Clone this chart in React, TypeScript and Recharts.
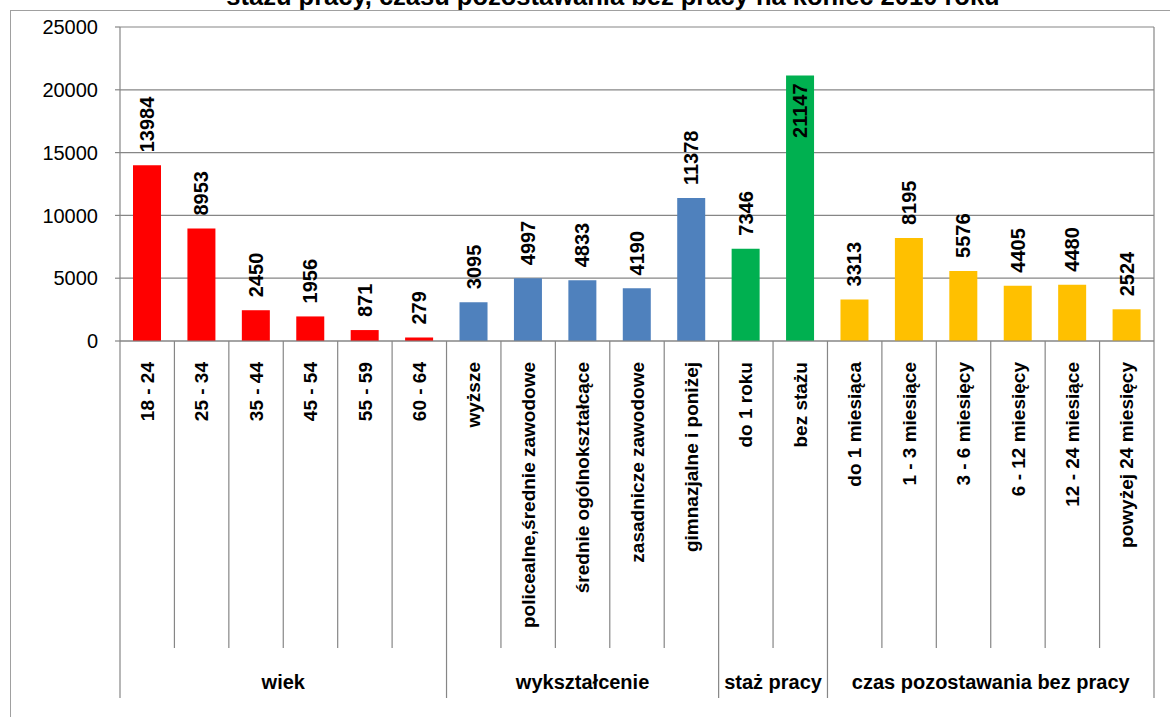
import React from "react";
import { Bar, BarChart, CartesianGrid, Cell, LabelList, XAxis, YAxis } from "recharts";

const categories = [
  "18 - 24",
  "25 - 34",
  "35 - 44",
  "45 - 54",
  "55 - 59",
  "60 - 64",
  "wyższe",
  "policealne,średnie zawodowe",
  "średnie ogólnokształcące",
  "zasadnicze zawodowe",
  "gimnazjalne i poniżej",
  "do 1 roku",
  "bez stażu",
  "do 1 miesiąca",
  "1 - 3 miesiące",
  "3 - 6 miesięcy",
  "6 - 12 miesięcy",
  "12 - 24 miesiące",
  "powyżej 24 miesięcy",
];

const values = [
  13984, 8953, 2450, 1956, 871, 279, 3095, 4997, 4833, 4190, 11378, 7346, 21147,
  3313, 8195, 5576, 4405, 4480, 2524,
];

const groupNames = ["wiek", "wykształcenie", "staż pracy", "czas pozostawania bez pracy"];
const groupSizes = [6, 5, 2, 6];

const yTicks = [0, 5000, 10000, 15000, 20000, 25000];

const title = "stażu pracy, czasu pozostawania bez pracy na koniec 2010 roku";

const groupColors = ["#ff0000", "#4f81bd", "#00b050", "#ffc000"];

const W = 1170;
const H = 717;
const X_AXIS_H = 376;
const Y_AXIS_W = 120;
const MARGIN = { top: 27, right: 16, left: 0, bottom: 0 };
const PLOT_TOP = MARGIN.top;
const PLOT_BOTTOM = H - X_AXIS_H;
const PLOT_W = W - MARGIN.left - MARGIN.right - Y_AXIS_W;
const FONT = "'Liberation Sans', Arial, sans-serif";
const LINE = "#868686";

// group index of each category
const groupStart: number[] = [];
const groupOf: number[] = [];
groupSizes.forEach((n, g) => {
  groupStart.push(groupOf.length);
  for (let i = 0; i < n; i++) groupOf.push(g);
});

const data = categories.map((name, i) => ({
  name,
  value: values[i],
  group: groupOf[i],
}));

function CategoryTick(props: any) {
  const { x, payload } = props;
  const index: number = payload.index;
  const bw = payload.offset ? payload.offset * 2 : PLOT_W / categories.length;
  const left = x - bw / 2;
  const g = groupOf[index];
  const isStart = groupStart[g] === index;
  const isLast = index === categories.length - 1;
  const shortEnd = 648;
  const longEnd = 698;
  return (
    <g>
      <line
        x1={left}
        x2={left}
        y1={PLOT_BOTTOM}
        y2={isStart ? longEnd : shortEnd}
        stroke={LINE}
        strokeWidth={1.2}
      />
      {isLast && (
        <line
          x1={left + bw}
          x2={left + bw}
          y1={PLOT_TOP}
          y2={longEnd}
          stroke={LINE}
          strokeWidth={1.2}
        />
      )}
      <text
        x={x}
        y={362}
        transform={`rotate(-90, ${x}, 362)`}
        textAnchor="end"
        dy="0.35em"
        fontFamily={FONT}
        fontWeight="bold"
        fontSize={19}
        fill="#000"
      >
        {payload.value}
      </text>
      {isStart && (
        <text
          x={left + (groupSizes[g] * bw) / 2}
          y={689}
          textAnchor="middle"
          fontFamily={FONT}
          fontWeight="bold"
          fontSize={20}
          fill="#000"
        >
          {groupNames[g]}
        </text>
      )}
    </g>
  );
}

function ValueLabel(props: any) {
  const { x, y, width, value } = props;
  const cx = Number(x) + Number(width) / 2;
  const top = Number(y);
  const textLen = String(value).length * 11.1;
  let start = top - 13;
  if (start - textLen < PLOT_TOP) start = top + 7 + textLen;
  return (
    <text
      x={cx}
      y={start}
      transform={`rotate(-90, ${cx}, ${start})`}
      textAnchor="start"
      dy="0.35em"
      fontFamily={FONT}
      fontWeight="bold"
      fontSize={20}
      fill="#000"
    >
      {value}
    </text>
  );
}

export default function App() {
  return (
    <div style={{ position: "relative", width: W, height: H, overflow: "hidden", background: "#fff" }}>
      <style>{"body{margin:0}"}</style>
      <svg width={W} height={H} style={{ position: "absolute", left: 0, top: 0 }}>
        <rect x={10.5} y={10.5} width={W + 20} height={H + 20} fill="none" stroke="#a0a0a0" />
        <text
          x={613}
          y={5}
          textAnchor="middle"
          fontFamily={FONT}
          fontWeight="bold"
          fontSize={25.5}
          fill="#000"
        >
          {title}
        </text>
      </svg>
      <div style={{ position: "absolute", left: 0, top: 0 }}>
        <BarChart width={W} height={H} data={data} margin={MARGIN}>
          <CartesianGrid vertical={false} stroke={LINE} strokeWidth={1.2} />
          <XAxis
            dataKey="name"
            interval={0}
            height={X_AXIS_H}
            tickLine={false}
            axisLine={{ stroke: LINE, strokeWidth: 1.2 }}
            tick={(p: any) => <CategoryTick {...p} />}
          />
          <YAxis
            width={Y_AXIS_W}
            domain={[0, 25000]}
            ticks={yTicks}
            interval={0}
            tickSize={5}
            tickMargin={17}
            axisLine={{ stroke: LINE, strokeWidth: 1.2 }}
            tickLine={{ stroke: LINE, strokeWidth: 1.2 }}
            tick={{ fill: "#000", fontSize: 20, fontFamily: FONT }}
          />
          <Bar dataKey="value" barSize={28} isAnimationActive={false}>
            {data.map((d, i) => (
              <Cell key={i} fill={groupColors[d.group]} />
            ))}
            <LabelList dataKey="value" content={(p: any) => <ValueLabel {...p} />} />
          </Bar>
        </BarChart>
      </div>
    </div>
  );
}
